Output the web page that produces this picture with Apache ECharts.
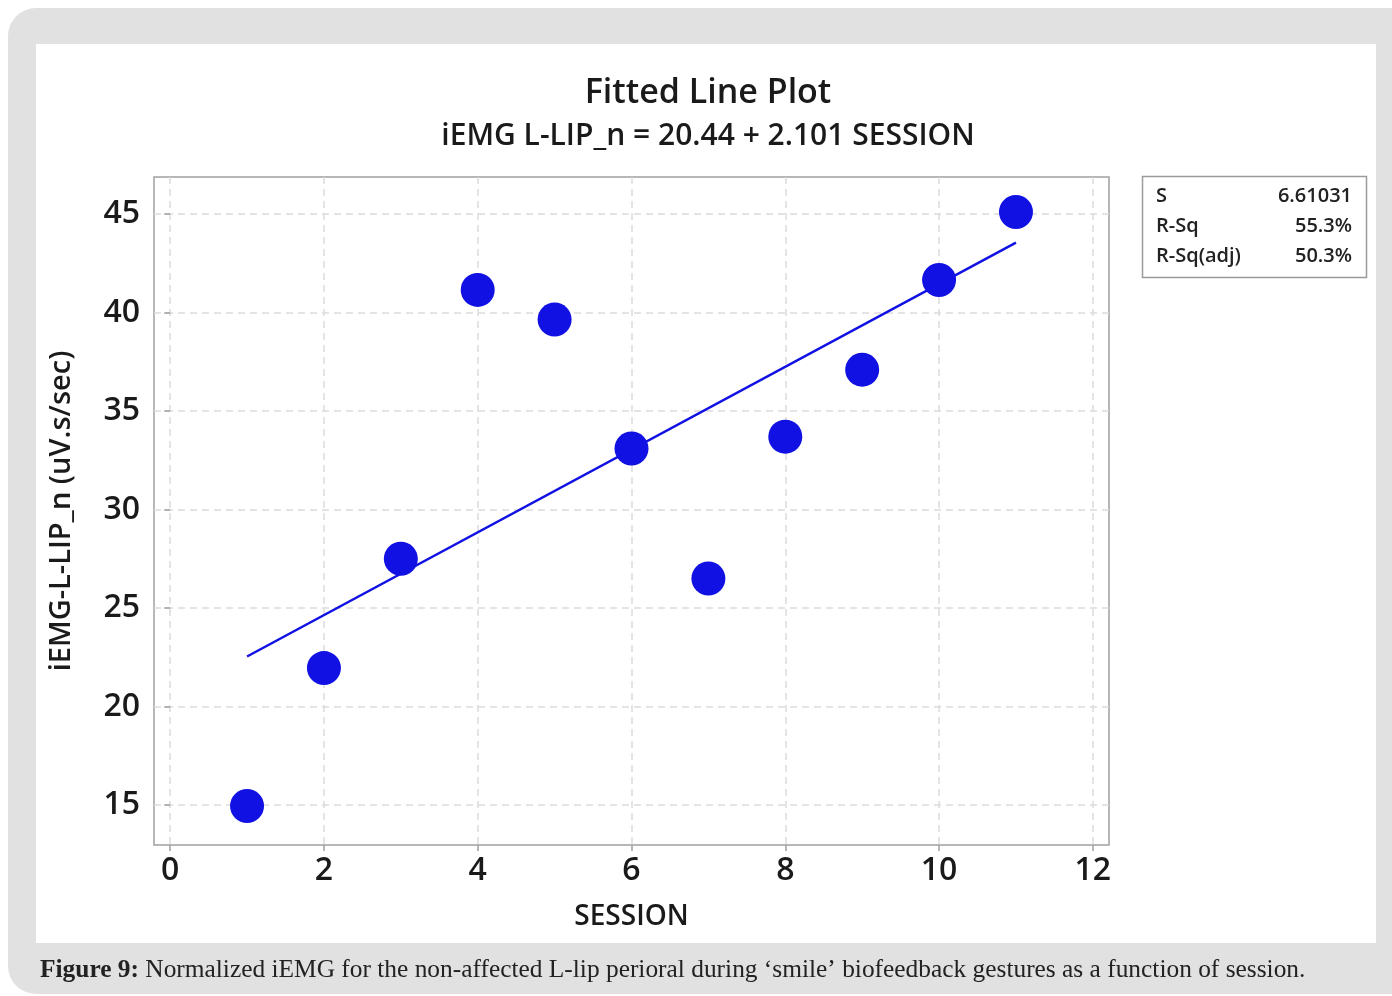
<!DOCTYPE html>
<html>
<head>
<meta charset="utf-8">
<script src="https://cdn.jsdelivr.net/npm/echarts@6/dist/echarts.min.js"></script>
<style>
  html, body { margin: 0; padding: 0; background: #fff; }
  #main { width: 1392px; height: 996px; }
</style>
</head>
<body>
<div id="main"></div>
<script>
// session number and normalized iEMG
var sessions = [1, 2, 3, 4, 5, 6, 7, 8, 9, 10, 11];
var iemg = [14.95, 21.95, 27.5, 41.15, 39.65, 33.1, 26.5, 33.7, 37.1, 41.65, 45.1];

// fitted line end points (session 1 and 11)
var fitX = [1, 11];
var fitY = [22.54, 43.55];

var xTicks = [0, 2, 4, 6, 8, 10, 12];
var yTicks = [15, 20, 25, 30, 35, 40, 45];

var statLabels = ['S', 'R-Sq', 'R-Sq(adj)'];
var statValues = ['6.61031', '55.3%', '50.3%'];

var FONT = '"Open Sans", "Noto Sans", sans-serif';
var SERIF = '"Liberation Serif", "DejaVu Serif", serif';
var BLUE = '#1111e3';
var INK = '#1a1a1a';

var chart = echarts.init(document.getElementById('main'), null, { renderer: 'canvas' });

var points = sessions.map(function (s, i) { return [s, iemg[i]]; });
var fitLine = fitX.map(function (s, i) { return [s, fitY[i]]; });

var statTexts = [];
statLabels.forEach(function (lab, i) {
    statTexts.push({
        type: 'text', z: 10,
        style: { x: 1156, y: 196 + i * 30, text: lab, fill: '#222',
                 font: '600 20px ' + FONT, verticalAlign: 'middle', align: 'left' }
    });
    statTexts.push({
        type: 'text', z: 10,
        style: { x: 1352, y: 196 + i * 30, text: statValues[i], fill: '#222',
                 font: '600 20px ' + FONT, verticalAlign: 'middle', align: 'right' }
    });
});

chart.setOption({
    animation: false,
    backgroundColor: '#fff',
    title: {
        text: 'Fitted Line Plot',
        subtext: 'iEMG L-LIP_n = 20.44 + 2.101 SESSION',
        left: 703,
        textAlign: 'center',
        top: 71,
        itemGap: 11,
        textStyle: { fontFamily: FONT, fontSize: 34, fontWeight: 600, color: INK },
        subtextStyle: { fontFamily: FONT, fontSize: 30, fontWeight: 600, color: INK }
    },
    graphic: [
        {
            type: 'rect', z: -10,
            shape: { x: 8, y: 8, width: 1400, height: 986, r: [28, 0, 0, 28] },
            style: { fill: '#e1e1e1' }
        },
        {
            type: 'rect', z: -9,
            shape: { x: 36, y: 44, width: 1340, height: 899 },
            style: { fill: '#fff' }
        },
        {
            type: 'rect', z: 5,
            shape: { x: 1142.5, y: 176.5, width: 224, height: 101 },
            style: { fill: '#fff', stroke: '#9a9a9a', lineWidth: 1.5 }
        },
        {
            type: 'text', z: 10,
            style: {
                x: 40, y: 970,
                text: '{b|Figure 9:} Normalized iEMG for the non-affected L-lip perioral during \u2018smile\u2019 biofeedback gestures as a function of session.',
                font: '25.4px ' + SERIF, fill: '#222', verticalAlign: 'middle',
                rich: {
                    b: { fontFamily: SERIF, fontSize: 25.4, fontWeight: 'bold', fill: '#222' }
                }
            }
        }
    ].concat(statTexts),
    grid: {
        left: 154, top: 177, width: 955, height: 668,
        show: true, borderColor: '#a0a0a0', borderWidth: 1.5, backgroundColor: 'transparent'
    },
    xAxis: {
        type: 'value',
        min: -0.21, max: 12.21,
        interval: 2,
        name: 'SESSION',
        nameLocation: 'middle',
        nameGap: 58,
        nameTextStyle: { fontFamily: FONT, fontSize: 28, fontWeight: 600, color: INK },
        axisLine: { show: false },
        axisTick: { show: true, length: 6, lineStyle: { color: '#a0a0a0', width: 1.5 },
                    customValues: xTicks },
        axisLabel: { fontFamily: FONT, fontSize: 32, fontWeight: 600, color: INK, margin: 10,
                     customValues: xTicks, showMinLabel: true, showMaxLabel: true },
        splitLine: { show: true, lineStyle: { color: '#dcdcdc', type: [7, 5], width: 1.5 } }
    },
    yAxis: {
        type: 'value',
        min: 12.97, max: 46.88,
        name: 'iEMG-L-LIP_n (uV.s/sec)',
        nameLocation: 'middle',
        nameGap: 78,
        nameTextStyle: { fontFamily: FONT, fontSize: 29, fontWeight: 600, color: INK },
        axisLine: { show: false },
        axisTick: { show: true, length: 6, lineStyle: { color: '#a0a0a0', width: 1.5 },
                    customValues: yTicks },
        axisLabel: { fontFamily: FONT, fontSize: 32, fontWeight: 600, color: INK, margin: 14,
                     customValues: yTicks },
        splitLine: { show: true, lineStyle: { color: '#dcdcdc', type: [7, 5], width: 1.5 } }
    },
    series: [
        {
            type: 'line',
            data: fitLine,
            symbol: 'none',
            lineStyle: { color: BLUE, width: 2.5 },
            z: 2
        },
        {
            type: 'scatter',
            data: points,
            symbolSize: 34,
            itemStyle: { color: BLUE, opacity: 1 },
            z: 3
        }
    ]
});
</script>
</body>
</html>
